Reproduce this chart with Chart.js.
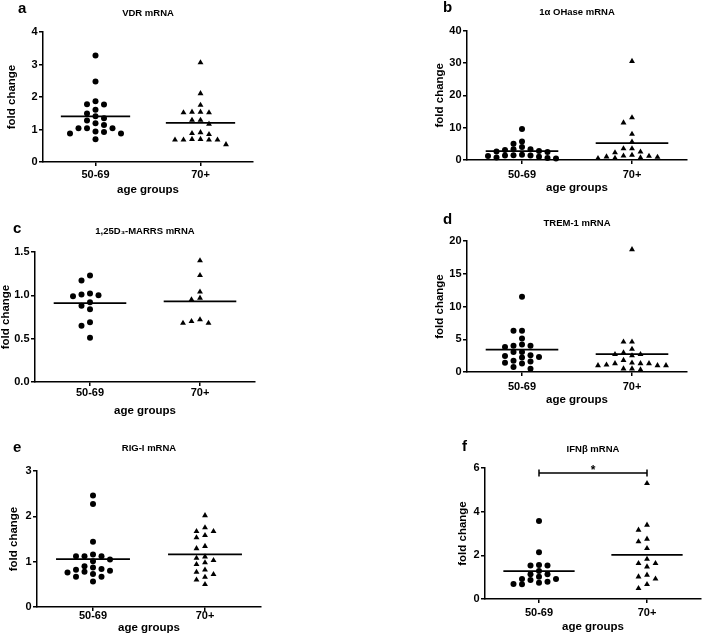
<!DOCTYPE html>
<html>
<head>
<meta charset="utf-8">
<script src="https://cdn.jsdelivr.net/npm/chart.js@4.4.0/dist/chart.umd.min.js"></script>
<style>
    html, body { margin: 0; padding: 0; background: #fff; }
    #fig { position: relative; width: 702px; height: 643px; overflow: hidden; }
    .panel { position: absolute; }
    .letter { position: absolute; font: bold 15px 'Liberation Sans', Arial, sans-serif; line-height: 15px; color: #000; }
</style>
</head>
<body>
<div id="fig"></div>
<script>
const groups = ['50-69', '70+']

// a - VDR mRNA
const vdrYoung = [3.28, 2.48, 1.87, 1.78, 1.77, 1.61, 1.49, 1.41, 1.35, 1.28, 1.19, 1.14, 1.04, 1.04, 1.04, 0.94, 0.92, 0.88, 0.88, 0.70]
const vdrOld = [3.06, 2.11, 1.75, 1.54, 1.54, 1.52, 1.52, 1.29, 1.29, 1.17, 0.91, 0.88, 0.85, 0.70, 0.70, 0.68, 0.68, 0.68, 0.68, 0.54]
const vdrTicks = [0, 1, 2, 3, 4]

// b - 1a OHase mRNA
const ohaseYoung = [9.6, 5.7, 5.0, 4.0, 3.3, 3.3, 3.1, 2.8, 2.6, 2.5, 1.6, 1.5, 1.4, 1.4, 1.2, 1.0, 0.8, 0.6, 0.5]
const ohaseOld = [30.5, 13.1, 11.5, 8.0, 5.6, 3.5, 3.5, 2.5, 2.3, 1.5, 1.3, 1.2, 1.0, 0.9, 0.7, 0.6, 0.5]
const ohaseTicks = [0, 10, 20, 30, 40]

// c - 1,25D3-MARRS mRNA
const marrsYoung = [1.23, 1.17, 1.02, 1.01, 1.00, 0.99, 0.92, 0.88, 0.84, 0.69, 0.65, 0.51]
const marrsOld = [1.40, 1.23, 1.04, 0.97, 0.95, 0.72, 0.70, 0.68, 0.68]
const marrsTicks = [0, 0.5, 1.0, 1.5]

// d - TREM-1 mRNA
const tremYoung = [11.5, 6.3, 6.3, 5.1, 4.2, 4.0, 4.0, 3.8, 3.05, 3.05, 2.55, 2.45, 2.3, 2.2, 1.7, 1.6, 1.4, 1.3, 0.75, 0.5]
const tremOld = [18.7, 4.6, 4.6, 3.5, 2.95, 2.7, 2.7, 2.5, 1.8, 1.4, 1.3, 1.3, 1.3, 1.1, 1.0, 1.0, 1.0, 0.5, 0.5, 0.35]
const tremTicks = [0, 5, 10, 15, 20]

// e - RIG-I mRNA
const rigYoung = [2.46, 2.27, 1.44, 1.16, 1.12, 1.12, 1.12, 1.05, 1.01, 0.90, 0.87, 0.84, 0.82, 0.80, 0.78, 0.76, 0.73, 0.67, 0.67, 0.56]
const rigOld = [2.02, 1.75, 1.67, 1.67, 1.58, 1.53, 1.34, 1.29, 1.11, 1.08, 1.03, 0.98, 0.94, 0.82, 0.77, 0.72, 0.66, 0.60, 0.50]
const rigTicks = [0, 1, 2, 3]

// f - IFNb mRNA
const ifnYoung = [3.57, 2.14, 1.56, 1.53, 1.53, 1.28, 1.13, 1.13, 1.02, 0.92, 0.92, 0.87, 0.79, 0.75, 0.69, 0.67]
const ifnOld = [5.30, 3.39, 3.16, 2.75, 2.63, 2.32, 1.83, 1.63, 1.63, 1.48, 1.10, 1.02, 0.92, 0.67, 0.49]
const ifnTicks = [0, 2, 4, 6]
const ifnSigLevel = 5.77

// --- page geometry of each panel (plot area in px) ---
const layout = {
    a: { left: 43, top: 32, width: 210, height: 130, titleY: 13, yTitleGap: 31, xTitleGap: 28, xTickGap: 13, letterX: 18, letterBase: 13 },
    b: { left: 467, top: 30, width: 220, height: 130, titleY: 11.5, yTitleGap: 27, xTitleGap: 28, xTickGap: 15, letterX: 443, letterBase: 12 },
    c: { left: 35, top: 252, width: 220, height: 130, titleY: 231, yTitleGap: 29, xTitleGap: 29, xTickGap: 11, letterX: 13, letterBase: 233 },
    d: { left: 467, top: 241, width: 220, height: 131, titleY: 223, yTitleGap: 27, xTitleGap: 28, xTickGap: 15, letterX: 443, letterBase: 224 },
    e: { left: 37, top: 471, width: 224, height: 136, titleY: 448, yTitleGap: 23, xTitleGap: 21, xTickGap: 9, letterX: 13, letterBase: 452 },
    f: { left: 485, top: 468, width: 216, height: 131, titleY: 449, yTitleGap: 22, xTitleGap: 28, xTickGap: 14, letterX: 462, letterBase: 451 },
}

Chart.defaults.font.family = "'Liberation Sans', Arial, sans-serif"
Chart.defaults.color = '#000'

const mean = arr => arr.reduce((s, v) => s + v, 0) / arr.length

// Prism-style column scatter: each point takes the nearest free column
function swarm(values, center, pxPerX, pxPerY) {
    const stepX = 8.5 / pxPerX
    const minDy = 5.3 / pxPerY
    const placed = []
    const sorted = [...values].sort((p, q) => q - p)
    return sorted.map(v => {
        for (let n = 0; n < 60; n++) {
            const k = n === 0 ? 0 : (n % 2 ? -Math.ceil(n / 2) : n / 2)
            if (!placed.some(p => p.k === k && Math.abs(p.v - v) < minDy)) {
                placed.push({ k, v })
                return { x: center + k * stepX, y: v }
            }
        }
    })
}

const sigPlugin = {
    id: 'sigBracket',
    afterDatasetsDraw(chart, args, opts) {
        if (opts.level == null) return
        const { ctx, scales: { x, y } } = chart
        const x1 = x.getPixelForValue(1), x2 = x.getPixelForValue(2), yy = y.getPixelForValue(opts.level)
        ctx.save()
        ctx.strokeStyle = '#000'
        ctx.lineWidth = 1.5
        ctx.beginPath()
        ctx.moveTo(x1, yy); ctx.lineTo(x2, yy)
        ctx.moveTo(x1, yy - 3.5); ctx.lineTo(x1, yy + 3.5)
        ctx.moveTo(x2, yy - 3.5); ctx.lineTo(x2, yy + 3.5)
        ctx.stroke()
        ctx.fillStyle = '#000'
        ctx.font = "bold 12px 'Liberation Sans', Arial, sans-serif"
        ctx.textAlign = 'center'
        ctx.textBaseline = 'middle'
        ctx.fillText(opts.text, (x1 + x2) / 2, yy - 2)
        ctx.restore()
    }
}

const fig = document.getElementById('fig')

function makePanel(id, title, young, old, yTicks, decimals, sig) {
    const L = layout[id]
    const wy = Math.round(L.yTitleGap + 6.9 + 2)
    const hx = Math.round(L.xTitleGap + 6.9 + 2)
    const canvasLeft = L.left - wy
    const canvasTop = Math.round(L.titleY - 8)
    const w = wy + L.width + 12
    const h = L.top + L.height + hx - canvasTop
    const yMax = yTicks[yTicks.length - 1]
    const pxPerX = L.width / 2
    const pxPerY = L.height / yMax

    const box = document.createElement('div')
    box.className = 'panel'
    box.style.cssText = `left:${canvasLeft}px;top:${canvasTop}px;width:${w}px;height:${h}px`
    const canvas = document.createElement('canvas')
    canvas.width = w
    canvas.height = h
    box.appendChild(canvas)
    fig.appendChild(box)

    const letter = document.createElement('div')
    letter.className = 'letter'
    letter.textContent = id
    letter.style.left = L.letterX + 'px'
    letter.style.top = (L.letterBase - 13) + 'px'
    fig.appendChild(letter)

    const halfLine = 0.33
    const meanLine = (vals, c) => ({
        type: 'line', data: [{ x: c - halfLine, y: mean(vals) }, { x: c + halfLine, y: mean(vals) }],
        borderColor: '#000', borderWidth: 1.8, pointRadius: 0, clip: false,
    })
    const axisFont = { size: 11, weight: 'bold' }
    const titleFont = { size: 11.5, weight: 'bold' }
    const gridOpts = { drawOnChartArea: false, drawTicks: true, tickLength: 4, color: '#000', lineWidth: 1.5 }

    new Chart(canvas, {
        type: 'scatter',
        data: {
            datasets: [
                { data: swarm(young, 1, pxPerX, pxPerY), pointStyle: 'circle', pointRadius: 3, backgroundColor: '#000', borderWidth: 0, clip: false },
                { data: swarm(old, 2, pxPerX, pxPerY), pointStyle: 'triangle', pointRadius: 3.4, backgroundColor: '#000', borderWidth: 0, clip: false },
                meanLine(young, 1),
                meanLine(old, 2),
            ]
        },
        options: {
            responsive: false,
            animation: false,
            layout: { padding: { left: 0, top: 0, right: 12, bottom: 0 } },
            plugins: {
                legend: { display: false },
                tooltip: { enabled: false },
                title: {
                    display: true, text: title, fullSize: false, color: '#000',
                    font: { size: 9.5, weight: 'bold' },
                    padding: { top: 8 - 5.7, bottom: L.top - L.titleY - 5.7 }
                },
                sigBracket: sig || {},
            },
            scales: {
                x: {
                    type: 'linear', min: 0.5, max: 2.5,
                    afterBuildTicks: s => { s.ticks = groups.map((g, i) => ({ value: i + 1 })) },
                    afterFit: s => { s.height = hx },
                    ticks: { callback: (v, i) => groups[i], font: axisFont, color: '#000', padding: L.xTickGap - 4 - 6.6, autoSkip: false, maxRotation: 0 },
                    grid: gridOpts,
                    border: { color: '#000', width: 1.5 },
                    title: { display: true, text: 'age groups', font: titleFont, color: '#000', padding: { top: 0, bottom: 2 } },
                },
                y: {
                    min: 0, max: yMax,
                    afterBuildTicks: s => { s.ticks = yTicks.map(v => ({ value: v })) },
                    afterFit: s => { s.width = wy },
                    ticks: { callback: v => v.toFixed(decimals), font: axisFont, color: '#000', padding: 1.5 },
                    grid: gridOpts,
                    border: { color: '#000', width: 1.5 },
                    title: { display: true, text: 'fold change', font: titleFont, color: '#000', padding: { top: 2, bottom: 0 } },
                },
            },
        },
        plugins: [sigPlugin],
    })
}

makePanel('a', 'VDR mRNA', vdrYoung, vdrOld, vdrTicks, 0)
makePanel('b', '1\u03b1 OHase mRNA', ohaseYoung, ohaseOld, ohaseTicks, 0)
makePanel('c', '1,25D\u2083-MARRS mRNA', marrsYoung, marrsOld, marrsTicks, 1)
makePanel('d', 'TREM-1 mRNA', tremYoung, tremOld, tremTicks, 0)
makePanel('e', 'RIG-I mRNA', rigYoung, rigOld, rigTicks, 0)
makePanel('f', 'IFN\u03b2 mRNA', ifnYoung, ifnOld, ifnTicks, 0, { level: ifnSigLevel, text: '*' })
</script>
</body>
</html>
